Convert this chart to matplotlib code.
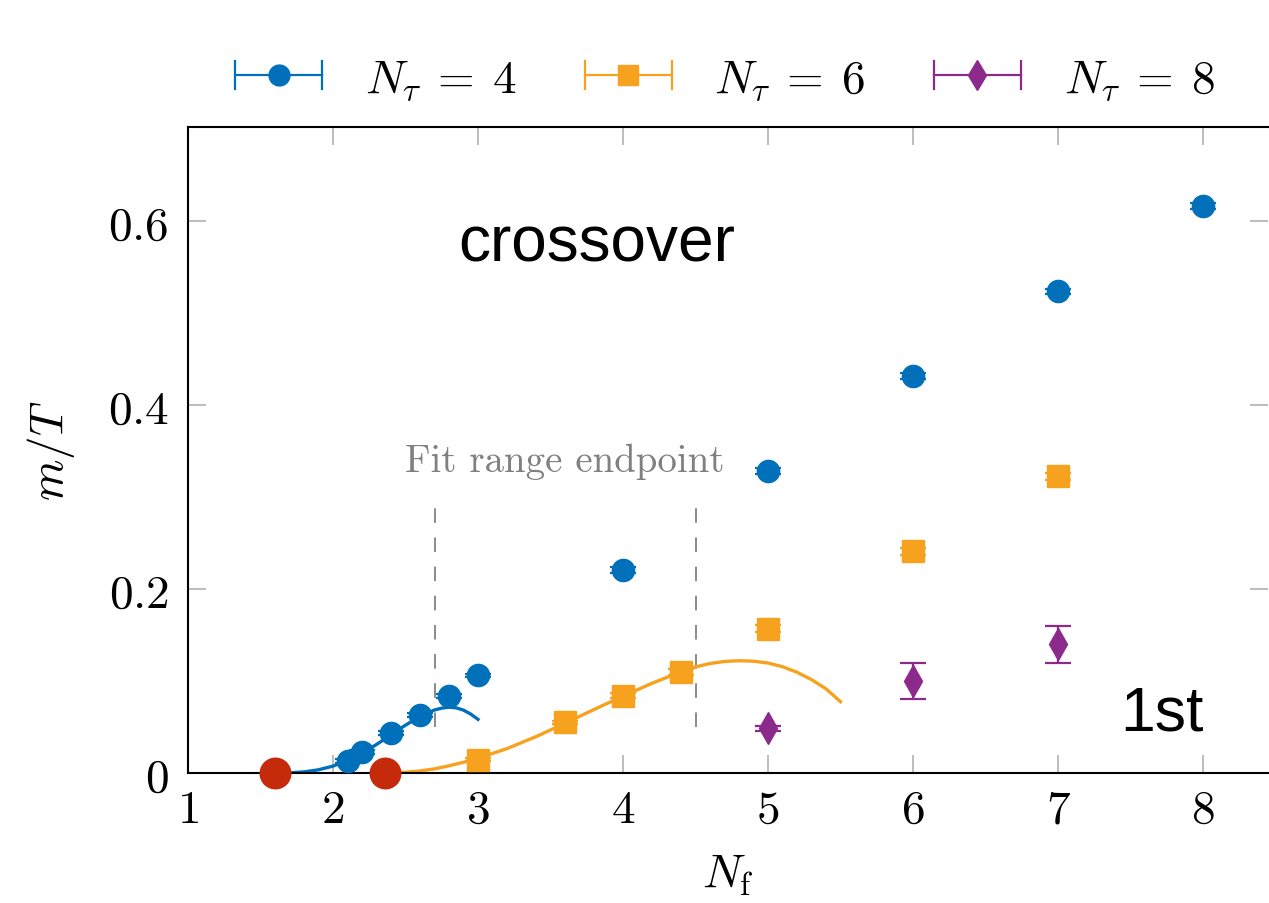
import matplotlib
matplotlib.use("Agg")
import matplotlib.pyplot as plt
from matplotlib.lines import Line2D
from matplotlib.legend_handler import HandlerBase

plt.rcParams["mathtext.fontset"] = "cm"
plt.rcParams["font.family"] = "DejaVu Serif"

# Measured masses m/T versus number of flavours
nf_4 = [2.1, 2.2, 2.4, 2.6, 2.8, 3.0, 4, 5, 6, 7, 8]
mT_4 = [0.013, 0.023, 0.0435, 0.063, 0.084, 0.106, 0.2205, 0.328, 0.4315, 0.5235, 0.616]
err_4 = [0.002, 0.002, 0.002, 0.002, 0.002, 0.002, 0.003, 0.003, 0.003, 0.003, 0.003]

nf_6 = [3.0, 3.6, 4.0, 4.4, 5, 6, 7]
mT_6 = [0.0145, 0.055, 0.084, 0.110, 0.157, 0.241, 0.3225]
err_6 = [0.002, 0.002, 0.003, 0.003, 0.004, 0.004, 0.004]

nf_8 = [5, 6, 7]
mT_8 = [0.0486, 0.100, 0.140]
err_8 = [0.003, 0.020, 0.020]

# Fit curves through the small-Nf points
fit4_nf = [1.6, 1.7, 1.8, 1.9, 2.0, 2.1, 2.2, 2.3, 2.4, 2.5, 2.6, 2.7, 2.75,
           2.8, 2.85, 2.9, 2.95, 3.0]
fit4_mT = [0.0, 0.0002, 0.0012, 0.0035, 0.0075, 0.0135, 0.0215, 0.031, 0.0415,
           0.052, 0.0615, 0.0685, 0.0705, 0.0715, 0.0708, 0.0683, 0.0640, 0.0583]
fit6_nf = [2.36, 2.5, 2.6, 2.7, 2.8, 2.9, 3.0, 3.2, 3.4, 3.6, 3.8, 4.0, 4.2, 4.4,
           4.5, 4.6, 4.7, 4.8, 4.9, 5.0, 5.1, 5.2, 5.3, 5.4, 5.5]
fit6_mT = [0.0, 0.0008, 0.0022, 0.0045, 0.0078, 0.0117, 0.016, 0.0265, 0.0395,
           0.054, 0.069, 0.0835, 0.0975, 0.110, 0.1153, 0.119, 0.1212, 0.122,
           0.1215, 0.1195, 0.1155, 0.1095, 0.1015, 0.0915, 0.0775]

# Tricritical endpoints
tric_nf = [1.6, 2.36]
tric_mT = [0.0, 0.0]

# Fit-range endpoints
fit_end_nf = [2.7, 4.5]
fit_end_lo, fit_end_hi = 0.05, 0.30

x_ticks = [1, 2, 3, 4, 5, 6, 7, 8]
y_ticks = [0, 0.2, 0.4, 0.6]
y_tick_labels = ["$0$", "$0.2$", "$0.4$", "$0.6$"]
series_labels = [r"$N_\tau \:=\: 4$", r"$N_\tau \:=\: 6$", r"$N_\tau \:=\: 8$"]

c_blue = "#0070bb"
c_orange = "#f7a21e"
c_purple = "#8c2a8c"
c_red = "#c52a0a"
c_tick = "#b8b8b8"

fig = plt.figure(figsize=(12.69, 9.04), dpi=100)
ax = fig.add_axes([188 / 1269, 130 / 904, 1080.25 / 1269, 646 / 904])
ax.set_xlim(1, 8.45)
ax.set_ylim(0, 0.702)

ax.plot(fit4_nf, fit4_mT, color=c_blue, lw=2.4, zorder=2, solid_joinstyle="round")
ax.plot(fit6_nf, fit6_mT, color=c_orange, lw=2.4, zorder=2, solid_joinstyle="round")
ax.vlines(fit_end_nf, fit_end_lo, fit_end_hi, colors="#8a8a8a", lw=1.4,
          linestyles=(0, (7.5, 7.5)), zorder=1)

ebkw = dict(ls="none", elinewidth=1.6, capthick=1.6, capsize=9.5, zorder=3)
ax.errorbar(nf_4, mT_4, yerr=err_4, color=c_blue, marker="o", ms=16,
            mec=c_blue, **ebkw)
ax.errorbar(nf_6, mT_6, yerr=err_6, color=c_orange, marker="s", ms=15.5,
            mec=c_orange, **ebkw)
ax.errorbar(nf_8, mT_8, yerr=err_8, color=c_purple, marker="d", ms=16,
            mec=c_purple, **ebkw)
ax.plot(tric_nf, tric_mT, ls="none", marker="o", ms=22, color=c_red,
        clip_on=False, zorder=5)

ax.text(3.82, 0.575, "crossover", ha="center", va="center", fontsize=46,
        family="Liberation Sans")
ax.text(7.72, 0.065, "1st", ha="center", va="center", fontsize=45,
        family="Liberation Sans")
ax.text(3.6, 0.339, "Fit range endpoint", ha="center", va="center", fontsize=28,
        family="cmr10", color="#808080")

ax.set_xticks(x_ticks)
ax.set_xticklabels([f"${v}$" for v in x_ticks])
ax.set_yticks(y_ticks)
ax.set_yticklabels(y_tick_labels)
ax.tick_params(direction="in", length=13, width=1.3, color=c_tick,
               labelsize=34, top=True, right=True)
ax.tick_params(axis="x", pad=10)
ax.tick_params(axis="y", pad=14)
for s in ax.spines.values():
    s.set_linewidth(1.5)
    s.set_color("black")
ax.spines["right"].set_visible(False)

ax.set_xlabel(r"$N_{\mathrm{f}}$", fontsize=34, labelpad=14)
ax.set_ylabel(r"$m/T$", fontsize=34, labelpad=22)


class ErrKey:
    def __init__(self, color, marker, ms):
        self.color = color
        self.marker = marker
        self.ms = ms


class ErrKeyHandler(HandlerBase):
    def create_artists(self, legend, orig, xdescent, ydescent, width, height,
                       fontsize, trans):
        y = height / 2 - ydescent
        x0, x1 = -xdescent, width - xdescent
        h = 10
        arts = [
            Line2D([x0, x1], [y, y], color=orig.color, lw=1.6),
            Line2D([x0, x0], [y - h, y + h], color=orig.color, lw=1.6),
            Line2D([x1, x1], [y - h, y + h], color=orig.color, lw=1.6),
            Line2D([(x0 + x1) / 2], [y], ls="none", marker=orig.marker,
                   ms=orig.ms, color=orig.color),
        ]
        for a in arts:
            a.set_transform(trans)
        return arts


keys = [ErrKey(c_blue, "o", 15), ErrKey(c_orange, "s", 14), ErrKey(c_purple, "d", 15)]
fig.legend(keys, series_labels, handler_map={ErrKey: ErrKeyHandler()},
           loc="center", bbox_to_anchor=(0.571, 0.9115), ncol=3, frameon=False,
           fontsize=34, handlelength=1.85, handletextpad=0.9, columnspacing=1.45)

fig.savefig("out.png", dpi=100)
